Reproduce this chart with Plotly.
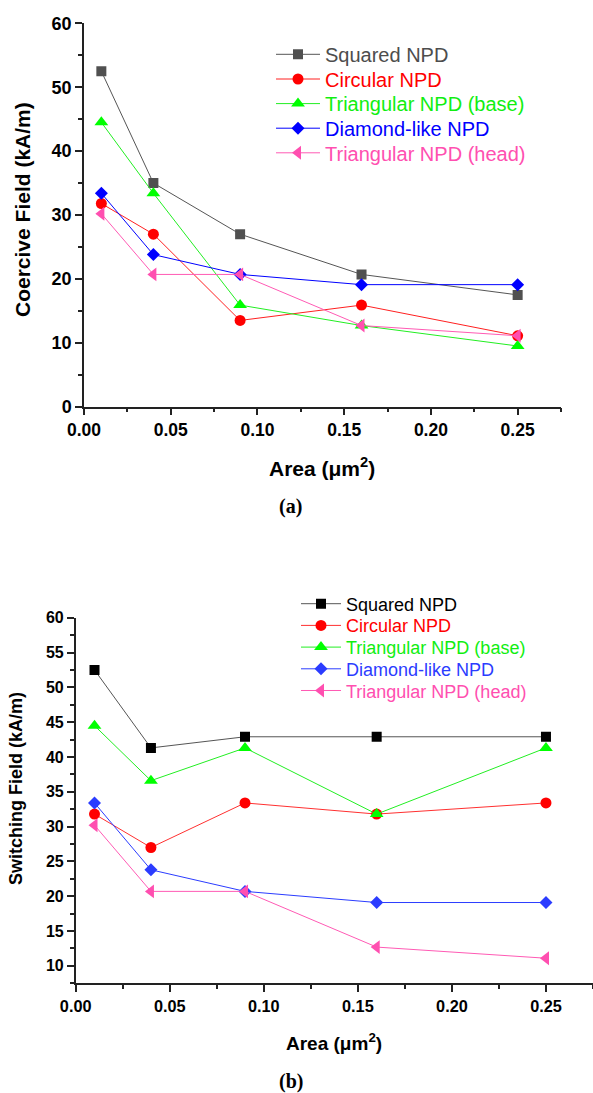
import plotly.graph_objects as go

# ---------------- data ----------------
area = [0.01, 0.04, 0.09, 0.16, 0.25]
series_names = ["Squared NPD", "Circular NPD", "Triangular NPD (base)",
                "Diamond-like NPD", "Triangular NPD (head)"]

# (a) coercive field, kA/m
coercive_squared = [52.5, 35.0, 27.0, 20.7, 17.5]
coercive_circular = [31.8, 27.0, 13.5, 15.9, 11.1]
coercive_tri_base = [44.5, 33.4, 15.9, 12.7, 9.5]
coercive_diamond = [33.4, 23.8, 20.7, 19.1, 19.1]
coercive_tri_head = [30.2, 20.7, 20.7, 12.7, 11.1]

# (b) switching field, kA/m
switching_squared = [52.5, 41.3, 42.9, 42.9, 42.9]
switching_circular = [31.8, 27.0, 33.4, 31.8, 33.4]
switching_tri_base = [44.5, 36.6, 41.3, 31.8, 41.3]
switching_diamond = [33.4, 23.8, 20.7, 19.1, 19.1]
switching_tri_head = [30.2, 20.7, 20.7, 12.7, 11.1]

x_ticks = [0.00, 0.05, 0.10, 0.15, 0.20, 0.25]

# ---------------- styling ----------------
W, H = 593, 1093
def px(x):
    return x / W
def py(y):
    return 1 - y / H

symbols = ["square", "circle", "triangle-up", "diamond", "triangle-left"]
sizes = [10, 11, 12, 10, 12]
top_marker_colors = ["#505050", "#ff0000", "#00ff00", "#0000ff", "#ff4fb0"]
top_line_colors = ["#555555", "#ff2020", "#22ee22", "#0000ff", "#ff5ab4"]
top_text_colors = ["#4d4d4d", "#ff0000", "#11ee11", "#0000ff", "#ff4fb0"]
bot_marker_colors = ["#000000", "#ff0000", "#00ff00", "#2b3cff", "#ff4fb0"]
bot_line_colors = ["#555555", "#ff3030", "#22ee22", "#2b3cff", "#ff5ab4"]
bot_text_colors = ["#000000", "#ff0000", "#11ee11", "#2b3cff", "#ff4fb0"]

FONT = "Liberation Sans"
SERIF = "Liberation Serif"

top_data = [coercive_squared, coercive_circular, coercive_tri_base,
            coercive_diamond, coercive_tri_head]
bot_data = [switching_squared, switching_circular, switching_tri_base,
            switching_diamond, switching_tri_head]

fig = go.Figure()

for i, (name, ys) in enumerate(zip(series_names, top_data)):
    fig.add_trace(go.Scatter(
        x=area, y=ys, name=name, mode="lines+markers",
        xaxis="x", yaxis="y",
        line=dict(color=top_line_colors[i], width=1),
        marker=dict(symbol=symbols[i], size=sizes[i], color=top_marker_colors[i],
                    line=dict(width=0)),
        legend="legend" if i == 0 else f"legend{i + 1}",
    ))

for i, (name, ys) in enumerate(zip(series_names, bot_data)):
    fig.add_trace(go.Scatter(
        x=area, y=ys, name=name, mode="lines+markers",
        xaxis="x2", yaxis="y2",
        line=dict(color=bot_line_colors[i], width=1),
        marker=dict(symbol=symbols[i], size=sizes[i], color=bot_marker_colors[i],
                    line=dict(width=0)),
        legend=f"legend{i + 6}",
    ))

axis_common = dict(
    showline=True, linecolor="#222222", linewidth=1.5,
    ticks="outside", ticklen=7, tickwidth=1.5, tickcolor="#222222",
    showgrid=False, zeroline=False, mirror=False, automargin=False,
)

layout = dict(
    template="none",
    width=W, height=H,
    margin=dict(l=0, r=0, t=0, b=0, pad=0),
    paper_bgcolor="white", plot_bgcolor="white",
    showlegend=True,
    xaxis=dict(axis_common, domain=[px(84), px(561)], range=[0, 0.275],
               tickvals=x_ticks, tickformat=".2f", anchor="y",
               minor=dict(ticks="outside", ticklen=4, dtick=0.025, tick0=0,
                          tickwidth=1.5, tickcolor="#222222"),
               tickfont=dict(family=FONT, size=17.5, weight="bold", color="black")),
    yaxis=dict(axis_common, domain=[py(406.7), py(23.3)], range=[0, 60],
               dtick=10, tick0=0, anchor="x",
               minor=dict(ticks="outside", ticklen=4, dtick=5, tick0=0,
                          tickwidth=1.5, tickcolor="#222222"),
               tickfont=dict(family=FONT, size=18, weight="bold", color="black")),
    xaxis2=dict(axis_common, domain=[px(75.7), 1.0], range=[0, 0.275],
                tickvals=x_ticks, tickformat=".2f", anchor="y2",
                minor=dict(ticks="outside", ticklen=4, dtick=0.025, tick0=0,
                           tickwidth=1.5, tickcolor="#222222"),
                tickfont=dict(family=FONT, size=16.3, weight="bold", color="black")),
    yaxis2=dict(axis_common, domain=[py(983.3), py(617.7)], range=[7.5, 60],
                dtick=5, tick0=0, anchor="x2",
                minor=dict(ticks="outside", ticklen=4, dtick=2.5, tick0=0,
                           tickwidth=1.5, tickcolor="#222222"),
                tickfont=dict(family=FONT, size=16, weight="bold", color="black")),
)

# one legend per entry so each text keeps its series colour and exact row
top_rows = [54.3, 79.0, 103.6, 128.2, 152.8]
bot_rows = [604.0, 625.7, 647.4, 669.1, 690.8]
for i in range(5):
    key = "legend" if i == 0 else f"legend{i + 1}"
    layout[key] = dict(x=px(271), y=py(top_rows[i]), xanchor="left", yanchor="middle",
                       bgcolor="rgba(0,0,0,0)", borderwidth=0, itemwidth=44,
                       font=dict(family=FONT, size=20, color=top_text_colors[i]))
for i in range(5):
    layout[f"legend{i + 6}"] = dict(x=px(296), y=py(bot_rows[i]), xanchor="left",
                                    yanchor="middle", bgcolor="rgba(0,0,0,0)",
                                    borderwidth=0, itemwidth=40,
                                    font=dict(family=FONT, size=18, color=bot_text_colors[i]))

annotations = [
    dict(text="Coercive Field (kA/m)", x=px(23), y=py(210), textangle=-90,
         font=dict(family=FONT, size=21, weight="bold", color="black")),
    dict(text="Area (\u03bcm<sup>2</sup>)", x=px(322), y=py(466.7),
         font=dict(family=FONT, size=21, weight="bold", color="black")),
    dict(text="(a)", x=px(290), y=py(506.7),
         font=dict(family=SERIF, size=20, weight="bold", color="black")),
    dict(text="Switching Field (kA/m)", x=px(16), y=py(789), textangle=-90,
         font=dict(family=FONT, size=18, weight="bold", color="black")),
    dict(text="Area (\u03bcm<sup>2</sup>)", x=px(334), y=py(1041.7),
         font=dict(family=FONT, size=19, weight="bold", color="black")),
    dict(text="(b)", x=px(291), y=py(1081.7),
         font=dict(family=SERIF, size=20, weight="bold", color="black")),
]
for a in annotations:
    a.update(xref="paper", yref="paper", showarrow=False,
             xanchor="center", yanchor="middle")
layout["annotations"] = annotations

fig.update_layout(**layout)
fig.write_html("out.html")
